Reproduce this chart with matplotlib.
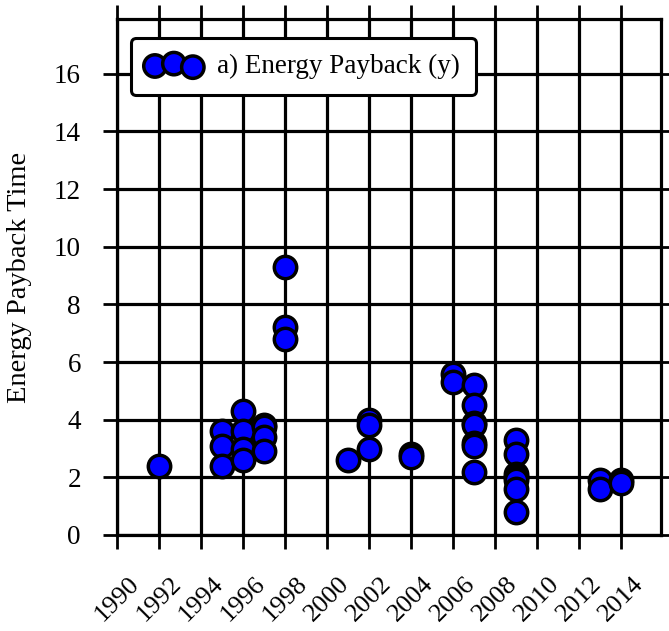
import matplotlib
matplotlib.use("Agg")
import matplotlib.pyplot as plt
import numpy as np

years = [1992,
         1995, 1995, 1995,
         1996, 1996, 1996, 1996,
         1997, 1997, 1997, 1997,
         1998, 1998, 1998,
         2001,
         2002, 2002, 2002,
         2004, 2004,
         2006, 2006,
         2007, 2007, 2007, 2007, 2007, 2007, 2007,
         2009, 2009, 2009, 2009, 2009, 2009, 2009,
         2013, 2013,
         2014, 2014]
payback = [2.4,
           3.6, 3.1, 2.4,
           4.3, 3.6, 3.0, 2.6,
           3.8, 3.75, 3.4, 2.9,
           9.3, 7.2, 6.8,
           2.6,
           4.0, 3.8, 3.0,
           2.8, 2.7,
           5.6, 5.3,
           5.2, 4.5, 3.9, 3.8, 3.2, 3.1, 2.2,
           3.3, 2.8, 2.1, 2.0, 1.9, 1.6, 0.8,
           1.9, 1.6,
           1.9, 1.8]
series_label = "a) Energy Payback (y)"
y_label = "Energy Payback Time"
x_ticks = list(range(1990, 2015, 2))
y_ticks = list(range(0, 17, 2))

plt.rcParams['font.family'] = ['Liberation Serif', 'DejaVu Serif']

fig = plt.figure(figsize=(6.69, 6.31), dpi=100)
ax = fig.add_axes([117/669, 1-535/631, (661-117)/669, (535-19)/631])

ax.scatter(years, payback, s=260, c='#0000ff', edgecolors='black',
           linewidths=2.5, zorder=3, label=series_label, clip_on=False)

ax.set_xlim(1990, 2015.9)
ax.set_ylim(0, 17.9)
ax.set_xticks(x_ticks)
ax.set_yticks(y_ticks)
ax.set_xticklabels([str(t) for t in x_ticks], rotation=45, ha='center',
                   fontsize=19)
ax.set_yticklabels([str(t) for t in y_ticks], fontsize=19.5)
ax.set_ylabel(y_label, fontsize=20.5, labelpad=16)

ax.grid(True, color='black', linewidth=2.3, zorder=1)
ax.set_axisbelow(True)
for s in ax.spines.values():
    s.set_linewidth(2.3)
ax.tick_params(direction='out', length=10, width=2, top=True, right=True,
               labeltop=False, labelright=False)
ax.tick_params(axis='y', pad=16)
ax.tick_params(axis='x', pad=17)

leg = ax.legend(loc='upper left', scatterpoints=3, fontsize=19.5,
                frameon=True, fancybox=True, borderpad=0.6,
                borderaxespad=0.5, handletextpad=0.6,
                bbox_to_anchor=(0.0, 0.99))
leg.get_frame().set_edgecolor('black')
leg.get_frame().set_linewidth(2.2)
leg.get_frame().set_alpha(1)

fig.savefig("out.png", dpi=100)
